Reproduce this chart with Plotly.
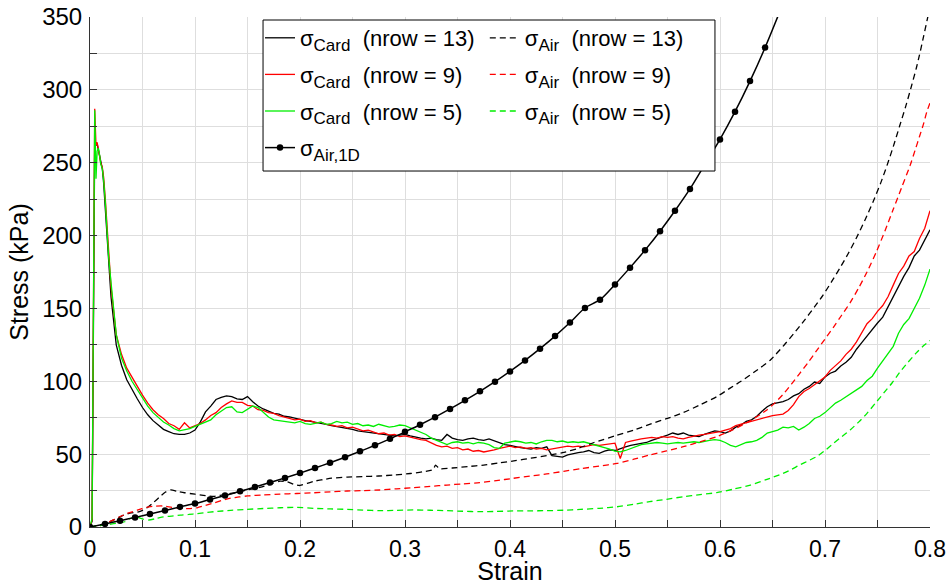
import plotly.graph_objects as go

# ---------------------------------------------------------------------------
# Measured card stress (solid lines): initial spike samples, then a regular
# strain grid from 0.020 to 0.800 in steps of 0.005.
# ---------------------------------------------------------------------------
CARD_HEAD_STRAIN = [0, 0.002, 0.0045, 0.0057, 0.0068, 0.008, 0.0092, 0.0102,
                    0.0117, 0.013, 0.0145, 0.016, 0.0178]
CARD13_HEAD = [0, 4, 265, 262, 263, 259, 255, 250, 246, 236, 220, 200, 178]
CARD9_HEAD = [0, 5, 287, 262, 264, 259, 256, 250, 247, 240, 226, 207, 186]
CARD5_HEAD = [0, 6, 286, 239, 258, 260, 255, 249, 246, 238, 224, 205, 185]

GRID_START = 0.02
GRID_STEP = 0.005

CARD13_BODY = [
    158, 125, 111, 101, 94, 88, 82, 77, 73, 70,
    67, 65.5, 64, 63.5, 63.5, 64.5, 66.5, 72, 79, 83,
    87.5, 89, 90, 89.5, 88, 87.5, 89.5, 86, 83, 81,
    79.5, 78, 77.5, 76, 75.5, 74.5, 74, 73, 72.5, 72,
    71, 70.5, 69.5, 69, 68, 67.5, 67, 66, 65.5, 65,
    64.5, 64, 63.5, 63, 62.5, 63, 63.5, 62.5, 61.5, 61,
    60.5, 61, 60, 59.5, 63.5, 61, 60, 59.5, 60.5, 61,
    60, 59.5, 60.5, 59, 57.5, 56.5, 56, 55, 54.5, 54,
    53.5, 54.5, 54, 55, 49, 48.5, 48, 49.5, 50.5, 51,
    51.5, 52.5, 51, 50.5, 52, 53, 52.5, 54, 55, 56,
    56.5, 57.5, 58, 59.5, 60.5, 61.5, 63, 64.5, 63.5, 64.5,
    63, 62.5, 62, 63.5, 64.5, 66, 65.5, 64.5, 66, 68.5,
    70, 72.5, 73.5, 76, 79.5, 82.5, 84.5, 85, 86, 87.5,
    90, 91.5, 94.5, 96.5, 99.5, 98.5, 103, 105.5, 107, 110.5,
    113, 116.5, 122, 126.5, 131, 136, 140, 144, 151, 159,
    166, 172, 178, 186, 190, 197, 204,
]

CARD9_BODY = [
    165, 132, 118.5, 109, 102.5, 96, 90.5, 85, 80.5, 77,
    74.5, 71, 69.5, 67, 71.5, 68, 69.5, 71, 73.5, 76.5,
    78.5, 82, 84.5, 86.5, 85.5, 85.5, 83.5, 83, 80.5, 80,
    78.5, 78, 76.5, 75.5, 75, 73.5, 74, 72.5, 73, 71.5,
    72, 70.5, 70, 69, 69.5, 68, 68.5, 67, 66, 66.5,
    65, 64, 64.5, 63, 63.5, 62, 62.5, 61.5, 61, 60,
    59.5, 57.5, 56, 55, 55.5, 54, 54.5, 53, 53.5, 52,
    52.5, 51.5, 52, 53, 54, 55, 55.5, 54.5, 55, 54,
    54.5, 53.5, 54, 53, 53.5, 54, 54.5, 55.5, 55, 55.5,
    55, 56, 56.5, 56, 56.5, 57, 57.5, 47, 58, 59,
    60, 60.5, 61, 61.5, 61, 62, 61.5, 62, 61, 60.5,
    61.5, 62.5, 63, 63.5, 64, 65, 65.5, 66.5, 67.5, 69.5,
    70.5, 71.5, 72.5, 73.5, 74.5, 76, 76.5, 77, 77.5, 80,
    84, 89.5, 93, 95, 97.5, 100.5, 103, 107.5, 111, 114,
    118.5, 122, 127, 133, 139.5, 143, 148, 152, 158, 166,
    174, 179, 186, 189, 198, 205, 217,
]

CARD5_BODY = [
    168, 132, 116, 107, 100, 94, 88.5, 83, 78.5, 75,
    72, 70, 67.5, 66, 66.5, 67.5, 69, 70.5, 72.5, 73.5,
    77, 79.5, 82, 82.5, 79, 78.5, 81, 83, 82, 78.5,
    75.5, 73.5, 73, 72.5, 72, 71.5, 72.5, 71, 70.5, 71.5,
    72, 70.5, 71, 72.5, 71.5, 72, 70.5, 71, 69.5, 70,
    69, 70.5, 69.5, 68.5, 69, 70, 69.5, 68, 66.5, 65,
    63.5, 61, 59.5, 57.5, 56.5, 58, 58.5, 57.5, 58, 57,
    58, 57.5, 56.5, 54.5, 54, 57.5, 58, 59, 58.5, 57.5,
    58, 57, 58.5, 59.5, 59.5, 58.5, 59, 58, 58.5, 58,
    58.5, 57.5, 57, 56, 55, 53.5, 52, 51.5, 52.5, 54,
    55.5, 56.5, 57, 57.5, 58, 57.5, 57, 57.5, 58, 57.5,
    58, 58.5, 58, 59, 59.5, 60, 59.5, 58, 56, 55,
    56.5, 58, 58.5, 59.5, 61.5, 64.5, 65.5, 66.5, 68.5, 68,
    69, 66.5, 68.5, 71, 74.5, 76, 78.5, 82, 85, 87,
    89.5, 92, 94, 96.5, 100.5, 103.5, 109, 114, 119, 124,
    133, 139, 143, 150, 157, 166, 177,
]

# ---------------------------------------------------------------------------
# Air pressure stress (dashed lines)
# ---------------------------------------------------------------------------
AIR13_STRAIN = [0, 0.01, 0.02, 0.03, 0.038, 0.047, 0.054, 0.06, 0.067, 0.072,
                0.077, 0.083, 0.09, 0.1, 0.11, 0.118, 0.126, 0.134, 0.142, 0.15,
                0.158, 0.166, 0.174, 0.181, 0.188, 0.195, 0.2, 0.207, 0.214, 0.222,
                0.23, 0.245, 0.26, 0.275, 0.29, 0.305, 0.318, 0.327, 0.329, 0.333,
                0.345, 0.36, 0.375, 0.39, 0.405, 0.42, 0.435, 0.45, 0.465, 0.48,
                0.5, 0.52, 0.535, 0.55, 0.565, 0.58, 0.597, 0.61, 0.62, 0.633,
                0.648, 0.66, 0.67, 0.68, 0.69, 0.698, 0.706, 0.714, 0.722, 0.73,
                0.738, 0.746, 0.753, 0.759, 0.765, 0.771, 0.777, 0.7825, 0.787, 0.79,
                0.794, 0.797, 0.8]
AIR13_STRESS = [0, 1.5, 4, 7.5, 9.5, 10.5, 13, 16.5, 21, 24,
                25.5, 24.5, 23.5, 22.5, 21.5, 21, 22, 23, 24, 25.5,
                26.5, 28, 30, 31.5, 31, 29, 28.5, 30, 31.5, 32.5,
                33.5, 34.2, 34.6, 35, 35.7, 36.7, 38, 39.5, 42.5, 40,
                40.5, 41.5, 42.5, 44, 45.5, 47.2, 49, 51, 54, 58,
                62.5, 67, 71, 74.5, 78.5, 83.5, 89.5, 95.5, 100, 106.5,
                114.6, 124, 132.5, 141.5, 151, 159, 168, 177.5, 187.5, 198.5,
                210.5, 223.5, 236, 248, 261, 275, 289, 303, 315, 324,
                337, 347, 357]

AIR9_STRAIN = [0, 0.01, 0.02, 0.027, 0.036, 0.045, 0.054, 0.062, 0.07, 0.078,
               0.086, 0.094, 0.102, 0.11, 0.118, 0.126, 0.134, 0.142, 0.15, 0.165,
               0.181, 0.197, 0.213, 0.229, 0.245, 0.26, 0.276, 0.292, 0.308, 0.324,
               0.34, 0.355, 0.371, 0.387, 0.403, 0.419, 0.435, 0.451, 0.467, 0.485,
               0.502, 0.518, 0.533, 0.549, 0.565, 0.581, 0.597, 0.613, 0.629, 0.644,
               0.652, 0.66, 0.668, 0.676, 0.684, 0.692, 0.7, 0.708, 0.716, 0.724,
               0.732, 0.74, 0.749, 0.757, 0.765, 0.773, 0.781, 0.786, 0.79, 0.794,
               0.797, 0.8]
AIR9_STRESS = [0, 1, 4, 6.5, 9.5, 11.5, 13.5, 14.3, 14.4, 13.5,
               12.8, 12.6, 13.2, 14.8, 16.5, 18.3, 19.8, 20.6, 21.3, 22,
               22.6, 23, 23.5, 24.1, 24.7, 25, 25.4, 26.2, 27, 27.9,
               28.8, 29.6, 30.4, 31.8, 33.4, 34.9, 36.4, 38.2, 40, 41.8,
               43.7, 46.5, 49.4, 52.2, 55.1, 58.5, 62, 67, 73, 80,
               85, 91, 98, 105.5, 113, 121, 129, 137, 145.5, 154,
               164, 175, 189, 203, 218, 233, 248, 259, 268, 277,
               285, 291]

AIR5_STRAIN = [0, 0.0143, 0.025, 0.033, 0.039, 0.044, 0.05, 0.056, 0.063, 0.07,
               0.078, 0.086, 0.094, 0.102, 0.11, 0.118, 0.134, 0.149, 0.165, 0.181,
               0.197, 0.213, 0.229, 0.245, 0.26, 0.276, 0.292, 0.308, 0.324, 0.34,
               0.355, 0.371, 0.387, 0.403, 0.419, 0.435, 0.451, 0.467, 0.485, 0.502,
               0.518, 0.533, 0.549, 0.565, 0.581, 0.597, 0.613, 0.629, 0.644, 0.66,
               0.668, 0.676, 0.684, 0.692, 0.7, 0.708, 0.716, 0.724, 0.732, 0.74,
               0.748, 0.756, 0.764, 0.771, 0.779, 0.787, 0.794, 0.8]
AIR5_STRESS = [0, 1.4, 2.5, 3.6, 6, 7, 5.5, 4.8, 5.8, 7,
               7.5, 8.2, 8.6, 9.2, 9.9, 10.5, 11.4, 12.1, 12.7, 13.2,
               13.5, 12.8, 12.4, 12.1, 11.6, 11.2, 11.4, 11.7, 11.5, 11.2,
               10.8, 10.5, 10.7, 11, 11.1, 11.2, 11.5, 12.1, 12.8, 13.9,
               15.6, 17.4, 19, 20.8, 22.2, 23.6, 26, 28.8, 32.5, 36.8,
               39.5, 42.6, 45.4, 48.3, 52.5, 57.4, 62, 66.6, 72, 78,
               85, 92, 99, 106, 113, 119.5, 124.5, 128]

# One-dimensional air compression model (solid line with dots)
AIR1D_STRAIN = [0, 0.0143, 0.0286, 0.0429, 0.0571, 0.0714, 0.0857, 0.1, 0.1143, 0.1286,
                0.1429, 0.1571, 0.1714, 0.1857, 0.2, 0.2143, 0.2286, 0.2429, 0.2571, 0.2714,
                0.2857, 0.3, 0.3143, 0.3286, 0.3429, 0.3571, 0.3714, 0.3857, 0.4, 0.4143,
                0.4286, 0.4429, 0.4571, 0.4714, 0.4857, 0.5, 0.5143, 0.5286, 0.5429, 0.5571,
                0.5714, 0.5857, 0.6, 0.6143, 0.6286, 0.6429, 0.6571]
AIR1D_STRESS = [0, 2.1, 4.3, 6.6, 8.9, 11.3, 13.8, 16.1, 18.9, 21.6,
                24.5, 27.4, 30.5, 33.7, 37.0, 40.5, 44.1, 47.9, 51.9, 56.1,
                60.5, 65.3, 70.2, 75.4, 81.0, 86.9, 93.1, 99.7, 106.8, 114.3,
                122.4, 131.0, 140.3, 150.3, 156, 166.5, 178, 190, 203, 217,
                232, 249, 266, 285, 306, 329, 354]

# Axis ticks
X_TICKS = [0, 0.1, 0.2, 0.3, 0.4, 0.5, 0.6, 0.7, 0.8]
X_TICK_TEXT = ["0", "0.1", "0.2", "0.3", "0.4", "0.5", "0.6", "0.7", "0.8"]
Y_TICKS = [0, 50, 100, 150, 200, 250, 300, 350]

# ---------------------------------------------------------------------------
FONT = "Liberation Sans, Arial, Helvetica, sans-serif"
GRID = "#dedede"
AXIS = "#333333"


def card_curve(head, body):
    grid = [round(GRID_START + GRID_STEP * i, 4) for i in range(len(body))]
    return CARD_HEAD_STRAIN + grid, head + body


def sub(txt):
    return "<sub><span style='font-size:17px'>" + txt + "</span></sub>"


SP = "\u00a0\u00a0"

fig = go.Figure()

for head, body, color, label in [
    (CARD13_HEAD, CARD13_BODY, "black", "13"),
    (CARD9_HEAD, CARD9_BODY, "red", "9"),
    (CARD5_HEAD, CARD5_BODY, "#00ee00", "5"),
]:
    xs, ys = card_curve(head, body)
    fig.add_trace(go.Scatter(
        x=xs, y=ys, mode="lines",
        line=dict(color=color, width=1.3),
        name="σ" + sub("Card") + SP + "(nrow = " + label + ")",
        legend="legend", legendgroup="card" + label,
    ))

for xs, ys, color, label in [
    (AIR13_STRAIN, AIR13_STRESS, "black", "13"),
    (AIR9_STRAIN, AIR9_STRESS, "red", "9"),
    (AIR5_STRAIN, AIR5_STRESS, "#00ee00", "5"),
]:
    fig.add_trace(go.Scatter(
        x=xs, y=ys, mode="lines",
        line=dict(color=color, width=1.3, dash="6px,4px", shape="spline", smoothing=0.6),
        name="σ" + sub("Air") + SP + "(nrow = " + label + ")",
        legend="legend2", legendgroup="air" + label,
    ))

fig.add_trace(go.Scatter(
    x=AIR1D_STRAIN, y=AIR1D_STRESS, mode="lines+markers",
    line=dict(color="black", width=1.5, shape="spline", smoothing=0.8),
    marker=dict(color="black", size=6.5),
    name="σ" + sub("Air,1D"),
    legend="legend", legendgroup="air1d",
))

# legend frame (white box covering the grid)
fig.add_shape(type="rect", xref="paper", yref="paper",
              x0=0.2060, x1=0.7440, y0=0.6980, y1=0.9941,
              line=dict(color="black", width=1), fillcolor="white", layer="above")

legend_common = dict(
    font=dict(family=FONT, size=22, color="black"),
    bgcolor="rgba(0,0,0,0)", borderwidth=0,
    orientation="v", xanchor="left", yanchor="top",
    tracegroupgap=5, itemclick=False, itemdoubleclick=False,
)

fig.update_layout(
    width=947, height=585,
    margin=dict(l=90, r=17, t=17, b=58, autoexpand=False),
    paper_bgcolor="white", plot_bgcolor="white",
    font=dict(family=FONT, color="black"),
    showlegend=True,
    legend=dict(x=0.2024, y=1.0, **legend_common),
    legend2=dict(x=0.470, y=1.0, **legend_common),
    xaxis=dict(
        range=[0, 0.8], tickmode="array", tickvals=X_TICKS, ticktext=X_TICK_TEXT,
        automargin=False,
        showgrid=True, gridcolor=GRID, gridwidth=1,
        zeroline=False, showline=True, linecolor=AXIS, linewidth=1,
        ticks="inside", ticklen=7, tickcolor=AXIS,
        minor=dict(dtick=0.05, tick0=0, showgrid=True, gridcolor=GRID, ticks="inside",
                   ticklen=7, tickcolor=AXIS),
        tickfont=dict(family=FONT, size=23, color="black"),
        title=dict(text="Strain", font=dict(family=FONT, size=25, color="black"), standoff=5),
        ticklabelstandoff=1,
    ),
    yaxis=dict(
        range=[0, 350], tickmode="array", tickvals=Y_TICKS,
        automargin=False,
        showgrid=True, gridcolor=GRID, gridwidth=1,
        zeroline=False, showline=True, linecolor=AXIS, linewidth=1,
        ticks="inside", ticklen=7, tickcolor=AXIS,
        minor=dict(dtick=25, tick0=0, showgrid=True, gridcolor=GRID, ticks="inside",
                   ticklen=7, tickcolor=AXIS),
        tickfont=dict(family=FONT, size=24, color="black"),
        title=dict(text="Stress (kPa)", font=dict(family=FONT, size=25, color="black"), standoff=6),
        ticklabelstandoff=2,
    ),
)

fig.write_html("out.html")
